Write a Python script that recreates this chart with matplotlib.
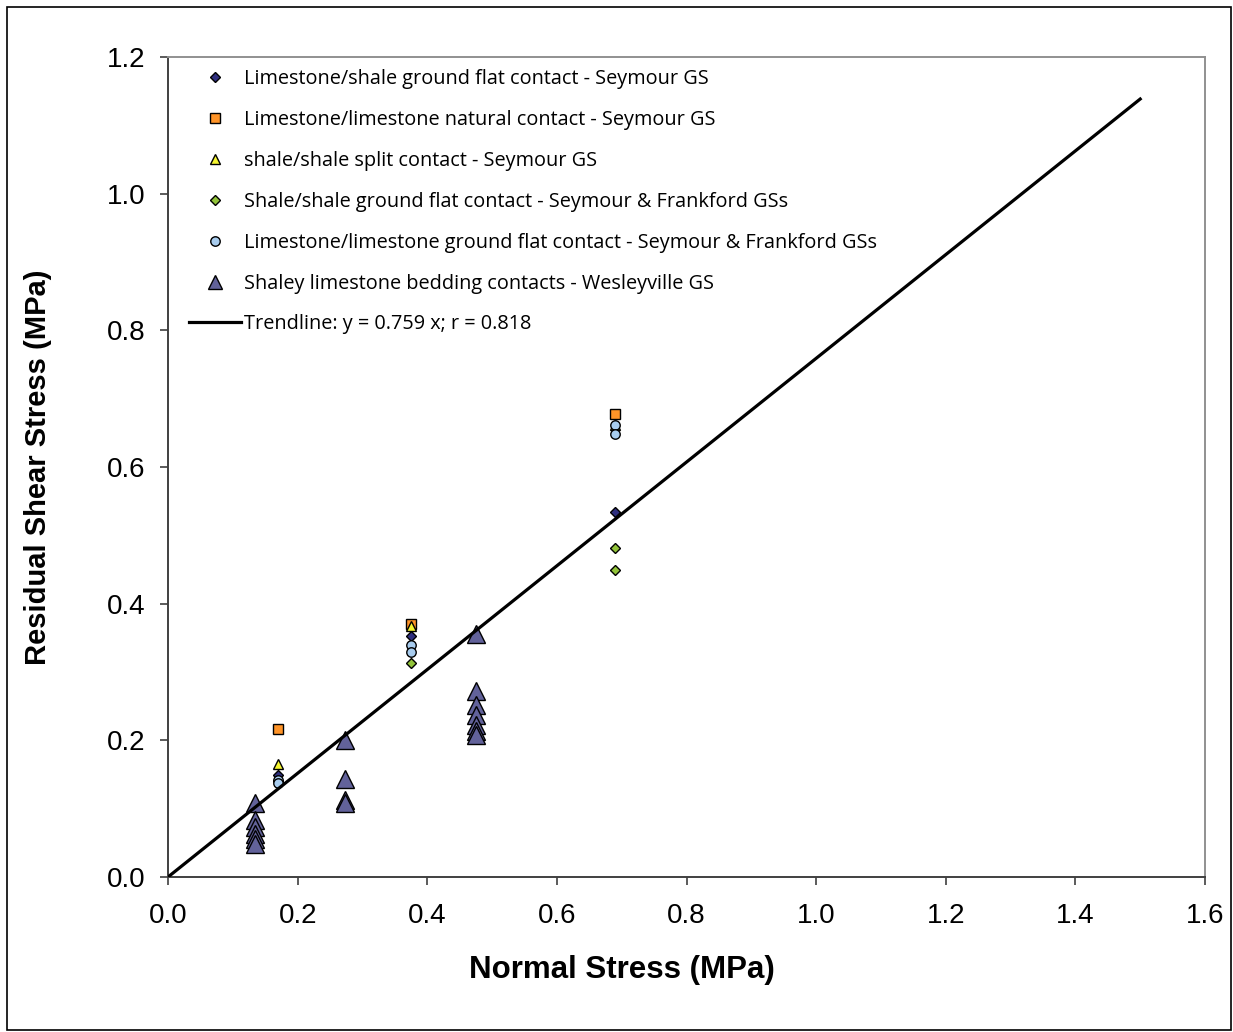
import matplotlib
matplotlib.use("Agg")
import matplotlib.pyplot as plt
from matplotlib.lines import Line2D
from matplotlib.patches import Rectangle

# direct shear test results, normal stress vs residual shear stress (MPa)
lsg_x = [0.17, 0.375, 0.69]
lsg_y = [0.149, 0.352, 0.534]

lln_x = [0.17, 0.375, 0.69]
lln_y = [0.216, 0.370, 0.678]

sss_x = [0.17, 0.375, 0.69]
sss_y = [0.166, 0.368, 0.662]

ssg_x = [0.17, 0.375, 0.69, 0.69]
ssg_y = [0.140, 0.313, 0.482, 0.449]

llg_x = [0.17, 0.17, 0.375, 0.375, 0.69, 0.69]
llg_y = [0.142, 0.137, 0.340, 0.330, 0.662, 0.648]

wes_x = [0.135] * 6 + [0.273] * 4 + [0.475] * 7
wes_y = [0.108, 0.083, 0.073, 0.063, 0.055, 0.048,
         0.200, 0.144, 0.113, 0.108,
         0.355, 0.272, 0.252, 0.237, 0.222, 0.213, 0.208]

slope = 0.759
trend_x = [0.0, 1.5]

labels = [
    "Limestone/shale ground flat contact - Seymour GS",
    "Limestone/limestone natural contact - Seymour GS",
    "shale/shale split contact - Seymour GS",
    "Shale/shale ground flat contact - Seymour & Frankford GSs",
    "Limestone/limestone ground flat contact - Seymour & Frankford GSs",
    "Shaley limestone bedding contacts - Wesleyville GS",
    "Trendline: y = 0.759 x; r = 0.818",
]

plt.rcParams['font.family'] = ['Liberation Sans', 'DejaVu Sans']

fig = plt.figure(figsize=(12.33, 10.32), dpi=100)
ax = fig.add_axes([168 / 1233, 1 - 877 / 1032, (1205 - 168) / 1233, (877 - 57) / 1032])

ax.plot(lsg_x, lsg_y, ls='none', marker='D', ms=5.6, mfc='#2E2E7E', mec='black', mew=1.0, zorder=3)
ax.plot(lln_x, lln_y, ls='none', marker='s', ms=6.5, mfc='#FF9428', mec='black', mew=1.0, zorder=3)
ax.plot(sss_x, sss_y, ls='none', marker='^', ms=7.5, mfc='#F5F531', mec='black', mew=1.0, zorder=3)
ax.plot(ssg_x, ssg_y, ls='none', marker='D', ms=5.6, mfc='#92C43A', mec='black', mew=1.0, zorder=3)
ax.plot(llg_x, llg_y, ls='none', marker='o', ms=6.8, mfc='#A8CCEE', mec='black', mew=1.0, zorder=3)
ax.plot(wes_x, wes_y, ls='none', marker='^', ms=12.8, mfc='#62629A', mec='black', mew=1.0, zorder=3)
ax.plot(trend_x, [slope * v for v in trend_x], color='black', lw=2.3, zorder=4)

ax.set_xlim(0, 1.6)
ax.set_ylim(0, 1.2)
ax.set_xticks([0.0, 0.2, 0.4, 0.6, 0.8, 1.0, 1.2, 1.4, 1.6])
ax.set_yticks([0.0, 0.2, 0.4, 0.6, 0.8, 1.0, 1.2])
ax.xaxis.set_major_formatter(plt.FormatStrFormatter('%.1f'))
ax.yaxis.set_major_formatter(plt.FormatStrFormatter('%.1f'))
ax.tick_params(direction='out', length=6, width=1.2, color='#404040', labelsize=20)
ax.tick_params(axis='x', pad=13)
ax.tick_params(axis='y', pad=10)

for side in ['left', 'bottom']:
    ax.spines[side].set_color('#404040')
    ax.spines[side].set_linewidth(1.4)
for side in ['top', 'right']:
    ax.spines[side].set_color('#909090')
    ax.spines[side].set_linewidth(1.4)

ax.set_xlabel("Normal Stress (MPa)", fontsize=22.5, fontweight='bold')
ax.set_ylabel("Residual Shear Stress (MPa)", fontsize=21, fontweight='bold')
ax.xaxis.set_label_coords((622 - 168) / 1037, -(970 - 877) / 820, transform=ax.transAxes)
ax.yaxis.set_label_coords(-(168 - 38) / 1037, 0.5, transform=ax.transAxes)
ax.xaxis.label.set_va('center')
ax.yaxis.label.set_va('center')

handles = [
    Line2D([], [], ls='none', marker='D', ms=5.6, mfc='#2E2E7E', mec='black', mew=1.0),
    Line2D([], [], ls='none', marker='s', ms=6.5, mfc='#FF9428', mec='black', mew=1.0),
    Line2D([], [], ls='none', marker='^', ms=7.5, mfc='#F5F531', mec='black', mew=1.0),
    Line2D([], [], ls='none', marker='D', ms=5.6, mfc='#92C43A', mec='black', mew=1.0),
    Line2D([], [], ls='none', marker='o', ms=6.8, mfc='#A8CCEE', mec='black', mew=1.0),
    Line2D([], [], ls='none', marker='^', ms=10, mfc='#62629A', mec='black', mew=1.0),
    Line2D([], [], color='black', lw=2.3),
]
leg = ax.legend(handles, labels, loc='upper left', bbox_to_anchor=(0.02, 0.985),
                frameon=False, prop={'family': 'Open Sans', 'size': 14.3},
                handlelength=2.65, handletextpad=0.15, labelspacing=1.05,
                borderpad=0, borderaxespad=0)

fig.add_artist(Rectangle((7 / 1233, 2 / 1032), 1224 / 1233, 1023 / 1032,
                         transform=fig.transFigure, fill=False, ec='black', lw=1.2))

fig.savefig("out.png", dpi=100)
